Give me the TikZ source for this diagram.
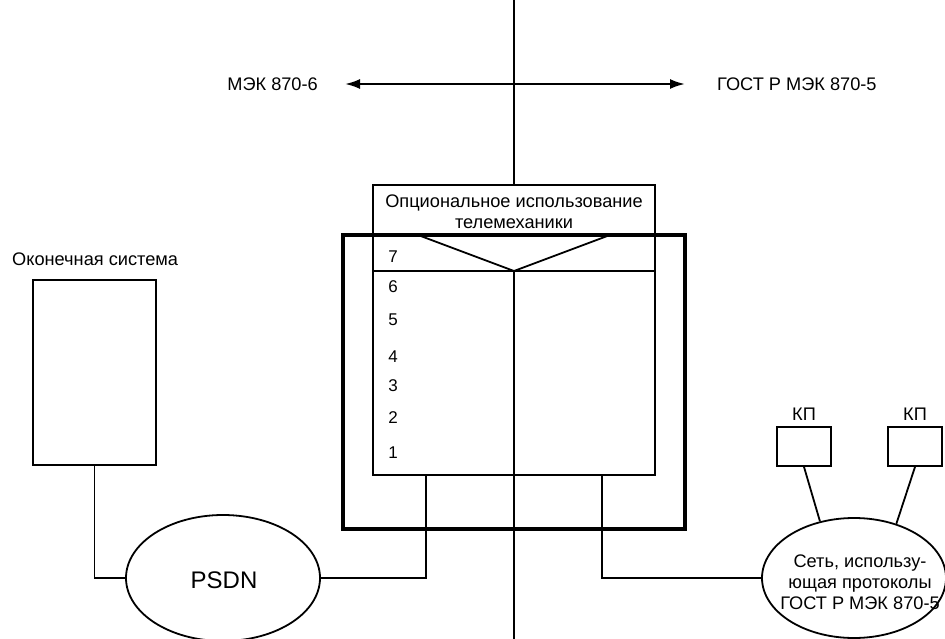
\documentclass[tikz,border=0pt]{standalone}
\usepackage{fontspec}
\setmainfont{Liberation Sans}
\usetikzlibrary{shapes.geometric,arrows.meta}
\tikzset{
  thin line/.style={line width=1.8pt},
  boxnode/.style={draw, line width=1.8pt, rectangle, inner sep=0pt},
  netnode/.style={draw, line width=1.8pt, ellipse, inner sep=0pt},
  txt/.style={inner sep=0pt, font=\fontsize{18.2}{21}\selectfont},
  num/.style={inner sep=0pt, font=\fontsize{17}{20}\selectfont},
}
\begin{document}
\begin{tikzpicture}[x=1pt,y=-1pt]
\useasboundingbox (0,0) rectangle (945,639);
% protocol arrow
\coordinate (aL) at (345,84);
\coordinate (aR) at (685,84);
\draw[line width=2.2pt, {Latex[length=15pt,width=10pt]}-{Latex[length=15pt,width=10pt]}] (aL) -- (aR);
\node[txt, anchor=east] (lblL) at (318,84) {МЭК 870-6};
\node[txt, anchor=west] (lblR) at (717,84) {ГОСТ Р МЭК 870-5};
% stack box and frame
\node[boxnode, minimum width=282, minimum height=290] (stack) at (514,330) {};
\node[draw, line width=3.8pt, rectangle, inner sep=0pt, minimum width=342, minimum height=294] (frame) at (514,382) {};
\node[txt, align=center] (opt) at (514,212) {Опциональное использование\\телемеханики};
\coordinate (r7L) at (373,271);
\coordinate (r7R) at (655,271);
\draw[thin line] (r7L) -- (r7R);
\coordinate (tA) at (418,235);
\coordinate (tB) at (514,271);
\coordinate (tC) at (610,235);
\draw[thin line] (tA) -- (tB) -- (tC);
% main vertical line
\coordinate (vTop) at (514,0);
\coordinate (vBot) at (514,639);
\draw[thin line] (vTop) -- (stack.north);
\draw[thin line] (tB) -- (vBot);
% layer numbers
\node[num] (n7) at (393,257) {7};
\node[num] (n6) at (393,287) {6};
\node[num] (n5) at (393,320) {5};
\node[num] (n4) at (393,357) {4};
\node[num] (n3) at (393,386) {3};
\node[num] (n2) at (393,418) {2};
\node[num] (n1) at (393,453) {1};
% end system
\node[txt, anchor=west] (esl) at (12,259) {Оконечная система};
\node[boxnode, minimum width=123, minimum height=185] (es) at (94.5,372.5) {};
% PSDN
\node[netnode, minimum width=194, minimum height=126] (psdn) at (223,578) {};
\node[inner sep=0pt, font=\fontsize{24}{28}\selectfont] (psdnt) at (224,580) {PSDN};
\draw[thin line] (es.south) |- (psdn.west);
\coordinate (c1) at (426,475);
\draw[thin line] (c1) |- (psdn.east);
% right network
\node[netnode, minimum width=184, minimum height=120] (net) at (854,578) {};
\node[txt, align=center] (nett) at (860,582) {Сеть, использу-\\ющая протоколы\\ГОСТ Р МЭК 870-5};
\coordinate (c2) at (602,475);
\draw[thin line] (c2) |- (net.west);
% KP
\node[boxnode, minimum width=54, minimum height=39] (kp1) at (804,446.5) {};
\node[boxnode, minimum width=54, minimum height=39] (kp2) at (915,446.5) {};
\node[txt] (kp1l) at (804,414) {КП};
\node[txt] (kp2l) at (915,414) {КП};
\draw[thin line] (kp1.south) -- (net.121);
\draw[thin line] (kp2.south) -- (net.52);
\end{tikzpicture}
\end{document}
